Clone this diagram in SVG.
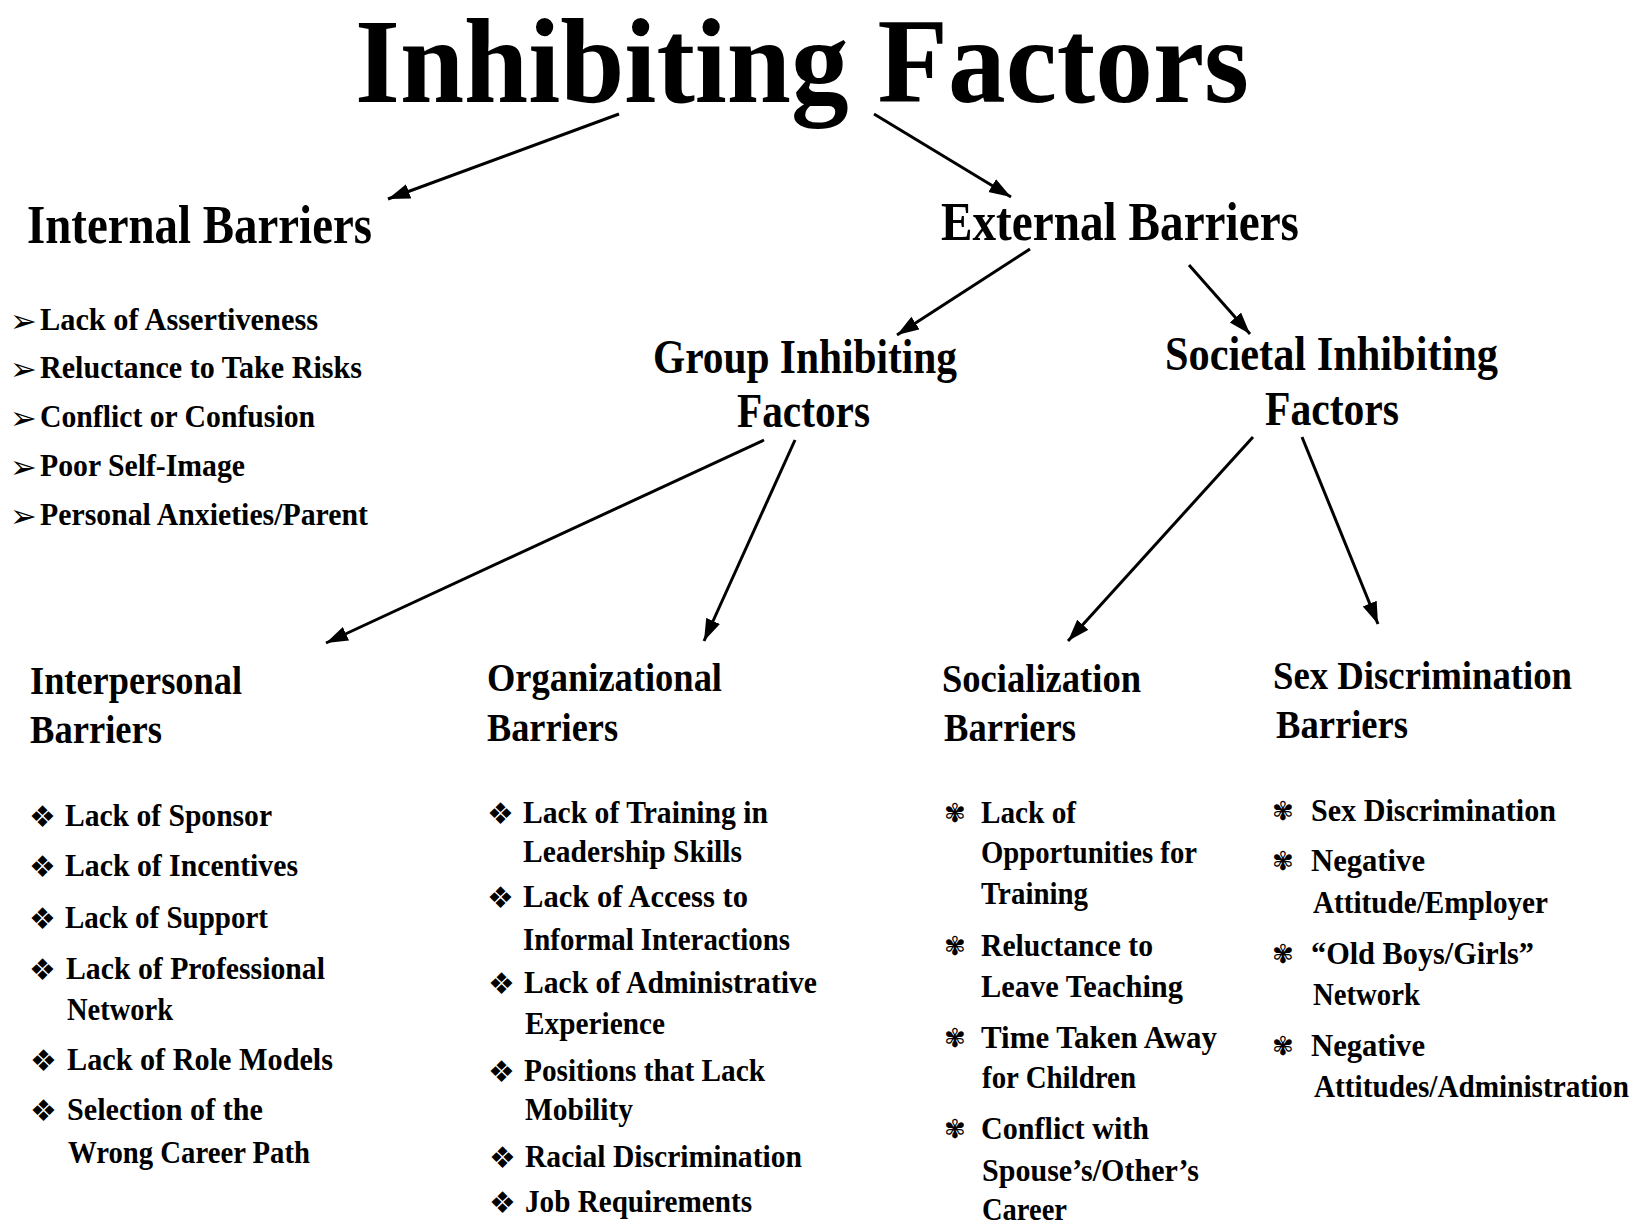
<svg xmlns="http://www.w3.org/2000/svg" width="1645" height="1226" viewBox="0 0 1645 1226">
<style>
.t{font-family:"Liberation Serif","Times New Roman",serif;font-weight:bold;fill:#000}
.title{font-size:120px}
.h1{font-size:54px}
.h1s{font-size:48px}
.h2{font-size:40px}
.it{font-size:31px}
.bl{font-family:"DejaVu Sans",sans-serif;fill:#000}
.b1{font-size:32px}
.b2{font-size:30px}
.b3{font-size:26px}
.c{stroke:#000;stroke-width:3;fill:none;marker-end:url(#ah)}
</style>
<defs>
<marker id="ah" markerUnits="userSpaceOnUse" markerWidth="24" markerHeight="16" refX="22" refY="7.5" orient="auto">
<path d="M0,0 L22,7.5 L0,15 z" fill="#000"/>
</marker>
</defs>
<rect width="1645" height="1226" fill="#fff"/>

<g id="connectors">
<line class="c" x1="619" y1="114" x2="388" y2="199"/>
<line class="c" x1="874" y1="114" x2="1011" y2="197"/>
<line class="c" x1="1030" y1="249" x2="897" y2="335"/>
<line class="c" x1="1189" y1="265" x2="1250" y2="334"/>
<line class="c" x1="764" y1="440" x2="326" y2="643"/>
<line class="c" x1="795" y1="440" x2="704" y2="641"/>
<line class="c" x1="1253" y1="437" x2="1068" y2="641"/>
<line class="c" x1="1302" y1="437" x2="1378" y2="624"/>
</g>

<g id="title">
<text class="t title" x="355" y="102" textLength="894" lengthAdjust="spacingAndGlyphs">Inhibiting Factors</text>
</g>

<g id="internal-barriers">
<text class="t h1" x="27" y="243" textLength="345" lengthAdjust="spacingAndGlyphs">Internal Barriers</text>
<text class="bl b1" x="10" y="332">➢</text>
<text class="t it" x="40" y="330" textLength="278" lengthAdjust="spacingAndGlyphs">Lack of Assertiveness</text>
<text class="bl b1" x="10" y="380">➢</text>
<text class="t it" x="40" y="378" textLength="322" lengthAdjust="spacingAndGlyphs">Reluctance to Take Risks</text>
<text class="bl b1" x="10" y="429">➢</text>
<text class="t it" x="40" y="427" textLength="275" lengthAdjust="spacingAndGlyphs">Conflict or Confusion</text>
<text class="bl b1" x="10" y="478">➢</text>
<text class="t it" x="40" y="476" textLength="205" lengthAdjust="spacingAndGlyphs">Poor Self-Image</text>
<text class="bl b1" x="10" y="527">➢</text>
<text class="t it" x="40" y="525" textLength="328" lengthAdjust="spacingAndGlyphs">Personal Anxieties/Parent</text>
</g>

<g id="external-barriers">
<text class="t h1" x="941" y="240" textLength="358" lengthAdjust="spacingAndGlyphs">External Barriers</text>
</g>

<g id="group-inhibiting-factors">
<text class="t h1s" x="653" y="373" textLength="304" lengthAdjust="spacingAndGlyphs">Group Inhibiting</text>
<text class="t h1s" x="737" y="427" textLength="133" lengthAdjust="spacingAndGlyphs">Factors</text>
</g>

<g id="societal-inhibiting-factors">
<text class="t h1s" x="1165" y="370" textLength="333" lengthAdjust="spacingAndGlyphs">Societal Inhibiting</text>
<text class="t h1s" x="1265" y="425" textLength="134" lengthAdjust="spacingAndGlyphs">Factors</text>
</g>

<g id="interpersonal-barriers">
<text class="t h2" x="30" y="694" textLength="212" lengthAdjust="spacingAndGlyphs">Interpersonal</text>
<text class="t h2" x="30" y="743" textLength="132" lengthAdjust="spacingAndGlyphs">Barriers</text>
<text class="bl b2" x="29" y="827">❖</text>
<text class="t it" x="65" y="826" textLength="207" lengthAdjust="spacingAndGlyphs">Lack of Sponsor</text>
<text class="bl b2" x="29" y="877">❖</text>
<text class="t it" x="65" y="876" textLength="233" lengthAdjust="spacingAndGlyphs">Lack of Incentives</text>
<text class="bl b2" x="29" y="929">❖</text>
<text class="t it" x="65" y="928" textLength="203" lengthAdjust="spacingAndGlyphs">Lack of Support</text>
<text class="bl b2" x="29" y="980">❖</text>
<text class="t it" x="66" y="979" textLength="259" lengthAdjust="spacingAndGlyphs">Lack of Professional</text>
<text class="t it" x="67" y="1020" textLength="106" lengthAdjust="spacingAndGlyphs">Network</text>
<text class="bl b2" x="30" y="1071">❖</text>
<text class="t it" x="67" y="1070" textLength="266" lengthAdjust="spacingAndGlyphs">Lack of Role Models</text>
<text class="bl b2" x="30" y="1121">❖</text>
<text class="t it" x="67" y="1120" textLength="196" lengthAdjust="spacingAndGlyphs">Selection of the</text>
<text class="t it" x="68" y="1163" textLength="242" lengthAdjust="spacingAndGlyphs">Wrong Career Path</text>
</g>

<g id="organizational-barriers">
<text class="t h2" x="487" y="691" textLength="235" lengthAdjust="spacingAndGlyphs">Organizational</text>
<text class="t h2" x="487" y="741" textLength="131" lengthAdjust="spacingAndGlyphs">Barriers</text>
<text class="bl b2" x="487" y="824">❖</text>
<text class="t it" x="523" y="823" textLength="245" lengthAdjust="spacingAndGlyphs">Lack of Training in</text>
<text class="t it" x="523" y="862" textLength="219" lengthAdjust="spacingAndGlyphs">Leadership Skills</text>
<text class="bl b2" x="487" y="908">❖</text>
<text class="t it" x="523" y="907" textLength="225" lengthAdjust="spacingAndGlyphs">Lack of Access to</text>
<text class="t it" x="523" y="950" textLength="267" lengthAdjust="spacingAndGlyphs">Informal Interactions</text>
<text class="bl b2" x="488" y="994">❖</text>
<text class="t it" x="524" y="993" textLength="293" lengthAdjust="spacingAndGlyphs">Lack of Administrative</text>
<text class="t it" x="525" y="1034" textLength="140" lengthAdjust="spacingAndGlyphs">Experience</text>
<text class="bl b2" x="488" y="1082">❖</text>
<text class="t it" x="524" y="1081" textLength="241" lengthAdjust="spacingAndGlyphs">Positions that Lack</text>
<text class="t it" x="525" y="1120" textLength="108" lengthAdjust="spacingAndGlyphs">Mobility</text>
<text class="bl b2" x="489" y="1168">❖</text>
<text class="t it" x="525" y="1167" textLength="277" lengthAdjust="spacingAndGlyphs">Racial Discrimination</text>
<text class="bl b2" x="489" y="1213">❖</text>
<text class="t it" x="525" y="1212" textLength="227" lengthAdjust="spacingAndGlyphs">Job Requirements</text>
</g>

<g id="socialization-barriers">
<text class="t h2" x="942" y="692" textLength="199" lengthAdjust="spacingAndGlyphs">Socialization</text>
<text class="t h2" x="944" y="741" textLength="132" lengthAdjust="spacingAndGlyphs">Barriers</text>
<text class="bl b3" x="944" y="822">✾</text>
<text class="t it" x="981" y="823" textLength="95" lengthAdjust="spacingAndGlyphs">Lack of</text>
<text class="t it" x="981" y="863" textLength="216" lengthAdjust="spacingAndGlyphs">Opportunities for</text>
<text class="t it" x="981" y="904" textLength="107" lengthAdjust="spacingAndGlyphs">Training</text>
<text class="bl b3" x="944" y="955">✾</text>
<text class="t it" x="981" y="956" textLength="172" lengthAdjust="spacingAndGlyphs">Reluctance to</text>
<text class="t it" x="981" y="997" textLength="202" lengthAdjust="spacingAndGlyphs">Leave Teaching</text>
<text class="bl b3" x="944" y="1047">✾</text>
<text class="t it" x="981" y="1048" textLength="236" lengthAdjust="spacingAndGlyphs">Time Taken Away</text>
<text class="t it" x="982" y="1088" textLength="154" lengthAdjust="spacingAndGlyphs">for Children</text>
<text class="bl b3" x="944" y="1138">✾</text>
<text class="t it" x="981" y="1139" textLength="168" lengthAdjust="spacingAndGlyphs">Conflict with</text>
<text class="t it" x="982" y="1181" textLength="217" lengthAdjust="spacingAndGlyphs">Spouse’s/Other’s</text>
<text class="t it" x="982" y="1220" textLength="85" lengthAdjust="spacingAndGlyphs">Career</text>
</g>

<g id="sex-discrimination-barriers">
<text class="t h2" x="1273" y="689" textLength="299" lengthAdjust="spacingAndGlyphs">Sex Discrimination</text>
<text class="t h2" x="1276" y="738" textLength="132" lengthAdjust="spacingAndGlyphs">Barriers</text>
<text class="bl b3" x="1272" y="820">✾</text>
<text class="t it" x="1311" y="821" textLength="245" lengthAdjust="spacingAndGlyphs">Sex Discrimination</text>
<text class="bl b3" x="1272" y="870">✾</text>
<text class="t it" x="1311" y="871" textLength="114" lengthAdjust="spacingAndGlyphs">Negative</text>
<text class="t it" x="1313" y="913" textLength="235" lengthAdjust="spacingAndGlyphs">Attitude/Employer</text>
<text class="bl b3" x="1272" y="963">✾</text>
<text class="t it" x="1311" y="964" textLength="223" lengthAdjust="spacingAndGlyphs">“Old Boys/Girls”</text>
<text class="t it" x="1313" y="1005" textLength="107" lengthAdjust="spacingAndGlyphs">Network</text>
<text class="bl b3" x="1272" y="1055">✾</text>
<text class="t it" x="1311" y="1056" textLength="114" lengthAdjust="spacingAndGlyphs">Negative</text>
<text class="t it" x="1314" y="1097" textLength="315" lengthAdjust="spacingAndGlyphs">Attitudes/Administration</text>
</g>
</svg>
